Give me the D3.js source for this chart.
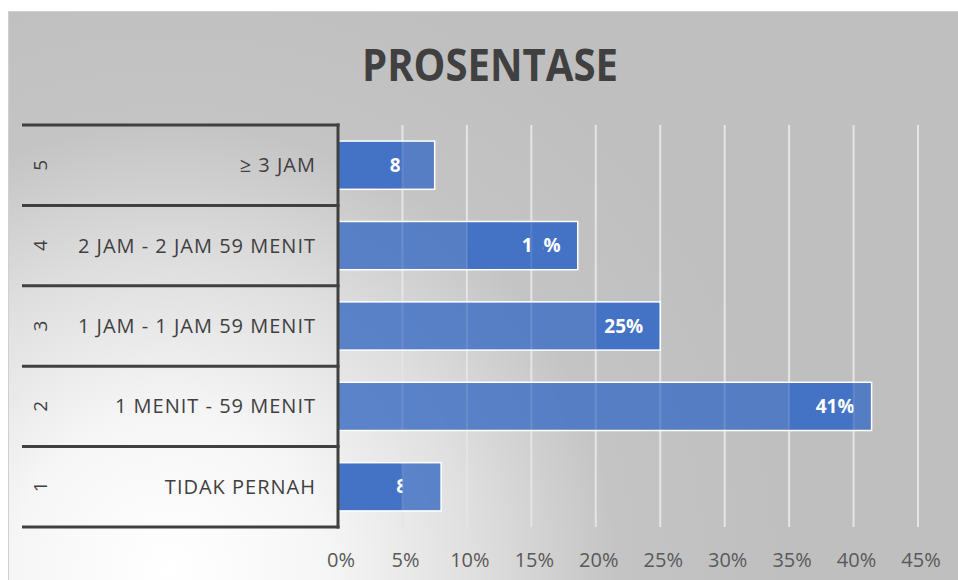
<!DOCTYPE html>
<html><head><meta charset="utf-8">
<script src="https://cdn.jsdelivr.net/npm/d3@7"></script>
<style>body{margin:0;background:#fff}svg{display:block}</style>
</head><body>
<script>
// ---- data ----
const chartTitle = "PROSENTASE";
const codes = ["1", "2", "3", "4", "5"];
const categories = ["TIDAK PERNAH", "1 MENIT - 59 MENIT", "1 JAM - 1 JAM 59 MENIT", "2 JAM - 2 JAM 59 MENIT", "≥ 3 JAM"];
const values = [0.080, 0.414, 0.250, 0.186, 0.075];
const valueLabels = ["8%", "41%", "25%", "18%", "8%"];
const tickValues = [0, 0.05, 0.10, 0.15, 0.20, 0.25, 0.30, 0.35, 0.40, 0.45];
const tickLabels = ["0%", "5%", "10%", "15%", "20%", "25%", "30%", "35%", "40%", "45%"];
// darker (solid) parts of each bar and where its label shows, as in the reference (null = bar end)
const darkParts = [[[0, 0.05]], [[0.35, 0.40]], [[0.20, null]], [[0.10, null]], [[0, 0.05]]];
const labelParts = [[[0, 0.05]], [[0.35, 0.40]], [[0.20, null]], [[0.10, 0.15], [0.159, null]], [[0, 0.0485]]];

// ---- layout ----
const W = 958, H = 580;
const svg = d3.select("body").append("svg").attr("width", W).attr("height", H);
const defs = svg.append("defs");
const grad = defs.append("radialGradient").attr("id", "bg")
  .attr("gradientUnits", "userSpaceOnUse").attr("cx", 170).attr("cy", 570).attr("r", 620);
[[0, "#ffffff"], [0.25, "#f6f6f6"], [0.5, "#dedede"], [0.72, "#c4c4c4"], [1, "#bfbfbf"]]
  .forEach(([o, c]) => grad.append("stop").attr("offset", o).attr("stop-color", c));

svg.append("rect").attr("x", 8.5).attr("y", 11.5).attr("width", W - 8).attr("height", H - 11)
  .attr("fill", "url(#bg)").attr("stroke", "#d0d0d0").attr("stroke-width", 1);

const x = d3.scaleLinear().domain([0, 0.45]).range([338, 918]);
const y = d3.scaleBand().domain(codes.slice().reverse()).range([125, 527])
  .paddingInner(0.4).paddingOuter(0.2);
const data = codes.map((c, i) => ({code: c, cat: categories[i], v: values[i], lab: valueLabels[i], dark: darkParts[i], lp: labelParts[i], i}));

// title
svg.append("text").attr("x", 490).attr("y", 81).attr("text-anchor", "middle")
  .attr("font-family", "Open Sans").attr("font-weight", "bold").attr("font-size", 44)
  .attr("fill", "#404040").attr("textLength", 256).attr("lengthAdjust", "spacingAndGlyphs")
  .text(chartTitle);

// gridlines
svg.append("g").selectAll("line").data(tickValues.slice(1)).join("line")
  .attr("x1", d => x(d)).attr("x2", d => x(d)).attr("y1", 125).attr("y2", 527)
  .attr("stroke", "#e2e2e2").attr("stroke-width", 2);

// bars
const bars = svg.append("g").selectAll("g").data(data).join("g");
bars.append("rect").attr("x", x(0)).attr("y", d => y(d.code))
  .attr("width", d => x(d.v) - x(0)).attr("height", y.bandwidth())
  .attr("fill", "#4472c4").attr("fill-opacity", 0.86);
bars.each(function(d) {
  const g = d3.select(this);
  d.dark.forEach(([a, b]) => {
    const e = b == null ? d.v : Math.min(b, d.v);
    g.append("rect").attr("x", x(a)).attr("y", y(d.code)).attr("width", x(e) - x(a))
      .attr("height", y.bandwidth()).attr("fill", "#4472c4");
  });
  const cp = defs.append("clipPath").attr("id", "lc" + d.i);
  d.lp.forEach(([a, b]) => {
    const e = b == null ? d.v : Math.min(b, d.v);
    cp.append("rect").attr("x", x(a)).attr("y", y(d.code)).attr("width", x(e) - x(a)).attr("height", y.bandwidth());
  });
});
// faint gridlines through bars
svg.append("g").selectAll("line").data(tickValues.slice(1)).join("line")
  .attr("x1", d => x(d)).attr("x2", d => x(d)).attr("y1", 125).attr("y2", 527)
  .attr("stroke", "#ffffff").attr("stroke-opacity", 0.1).attr("stroke-width", 2);
bars.append("rect").attr("x", x(0)).attr("y", d => y(d.code))
  .attr("width", d => x(d.v) - x(0)).attr("height", y.bandwidth())
  .attr("fill", "none").attr("stroke", "#ffffff").attr("stroke-width", 1.5);
bars.append("text").attr("clip-path", d => `url(#lc${d.i})`)
  .attr("x", d => x(d.v) - 17).attr("y", d => y(d.code) + y.bandwidth() / 2)
  .attr("dy", "0.35em").attr("text-anchor", "end")
  .attr("font-family", "Open Sans").attr("font-weight", "bold").attr("font-size", 19)
  .attr("fill", "#ffffff").text(d => d.lab);

// x axis labels
svg.append("g").selectAll("text").data(tickValues).join("text")
  .attr("x", d => x(d) + 3).attr("y", 560).attr("dy", "0.35em").attr("text-anchor", "middle")
  .attr("font-family", "Open Sans").attr("font-size", 20).attr("fill", "#595959")
  .text((d, i) => tickLabels[i]);

// multi-level category axis
const step = y.step();
const bounds = d3.range(codes.length + 1).map(k => 125 + k * step);
svg.append("g").selectAll("line").data(bounds).join("line")
  .attr("x1", 22).attr("x2", 339.5).attr("y1", d => d).attr("y2", d => d)
  .attr("stroke", "#404040").attr("stroke-width", 3);
svg.append("line").attr("x1", 338).attr("x2", 338).attr("y1", 123.5).attr("y2", 528.5)
  .attr("stroke", "#404040").attr("stroke-width", 3);
const cy = d => y(d.code) + y.bandwidth() / 2;
svg.append("g").selectAll("text").data(data).join("text")
  .attr("x", 316).attr("y", cy).attr("dy", "0.35em").attr("text-anchor", "end")
  .attr("font-family", "Open Sans").attr("font-size", 20).attr("letter-spacing", 1)
  .attr("fill", "#404040")
  .text(d => d.cat);
svg.append("g").selectAll("text").data(data).join("text")
  .attr("transform", d => `translate(40,${cy(d)}) rotate(-90)`)
  .attr("dy", "0.35em").attr("text-anchor", "middle")
  .attr("font-family", "Open Sans").attr("font-size", 19).attr("fill", "#404040")
  .text(d => d.code);
</script>
</body></html>
